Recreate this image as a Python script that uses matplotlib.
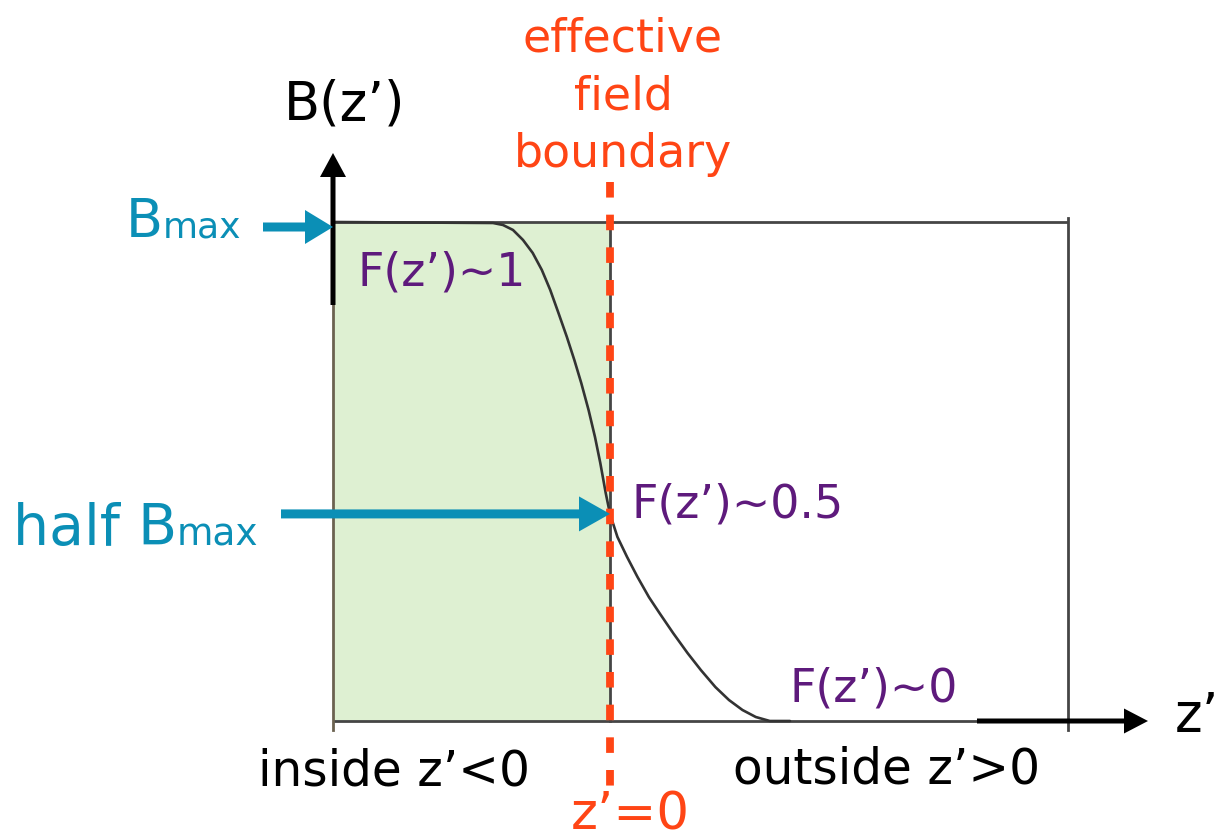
import matplotlib
matplotlib.use("Agg")
import matplotlib.pyplot as plt

# ---- data (z' in arbitrary units, field fraction F = B/Bmax) ----
z_curve = [-2.770, -1.170, -1.070, -0.970, -0.870, -0.773, -0.682, -0.598, -0.516, -0.432,
           -0.356, -0.287, -0.214, -0.150, -0.097, -0.043, 0.000, 0.074, 0.170, 0.274,
           0.390, 0.496, 0.632, 0.776, 0.909, 1.054, 1.190, 1.325, 1.458, 1.598, 1.800]
F_curve = [1.000, 0.998, 0.994, 0.984, 0.964, 0.938, 0.904, 0.864, 0.818, 0.770,
           0.723, 0.677, 0.623, 0.569, 0.517, 0.457, 0.415, 0.369, 0.329, 0.289,
           0.248, 0.216, 0.176, 0.136, 0.102, 0.068, 0.042, 0.022, 0.008, 0.000, 0.000]
z_inside = -2.77      # left edge of box
z_boundary = 0.0      # effective field boundary
z_outside = 4.58      # right edge of box
F_max = 1.0
F_half = 0.415

labels_F = ["F(z\u2019)~1", "F(z\u2019)~0.5", "F(z\u2019)~0"]
boundary_lines = ["effective", "field", "boundary"]

# ---- colours ----
ORANGE = "#FF4515"
PURPLE = "#5E1A7C"
TEAL = "#0B8FB6"
GREEN = "#DEF0D2"
BOXC = "#454545"

W, H = 1222, 840
fig = plt.figure(figsize=(W / 100, H / 100), dpi=100)
ax = fig.add_axes([0, 0, 1, 1])
# mapping: 100 px per z unit, 499 px per unit of F, boundary at px 610, F=0 at py 721
XS, YS, X0, Y0 = 100.0, 499.0, 610.0, 721.0
ax.set_xlim((0 - X0) / XS, (W - X0) / XS)
ax.set_ylim((Y0 - H) / YS, Y0 / YS)
ax.axis("off")


def P(x, y):
    """pixel (top-left origin) -> data coords, for layout of annotations"""
    return ((x - X0) / XS, (Y0 - y) / YS)


FONT = "DejaVu Sans"

# green "inside" region
ax.fill_between([z_inside, z_boundary], [0, 0], [F_max, F_max], color=GREEN, lw=0, zorder=1)

# box
lw_box = 2.0
ax.plot([z_inside, z_outside], [F_max, F_max], color=BOXC, lw=lw_box, zorder=2, solid_capstyle="butt")
ax.plot([z_inside, z_outside], [0, 0], color=BOXC, lw=lw_box, zorder=2, solid_capstyle="butt")
ax.plot([z_inside, z_inside], [P(0, 730)[1], F_max], color="#6b6250", lw=lw_box, zorder=2)
ax.plot([z_outside, z_outside], [P(0, 730)[1], P(0, 218)[1]], color=BOXC, lw=lw_box, zorder=2)
ax.plot([z_boundary, z_boundary], [0, F_max], color=BOXC, lw=lw_box, zorder=2)

# fringe field curve
ax.plot(z_curve, F_curve, color="#333333", lw=1.9, zorder=3,
        solid_joinstyle="round", solid_capstyle="round")

# dashed effective boundary
ax.plot([z_boundary, z_boundary], [P(0, 182)[1], P(0, 792)[1]], color=ORANGE, lw=5.6,
        dashes=(2.0, 2.2), zorder=4)

# axis arrows (black)
ax.arrow(z_inside, P(0, 305)[1], 0, P(0, 153)[1] - P(0, 305)[1], width=5 / XS,
         head_width=26 / XS, head_length=24 / YS, length_includes_head=True,
         color="black", lw=0, zorder=5)
ax.arrow(P(977, 0)[0], 0, P(1148, 0)[0] - P(977, 0)[0], 0, width=5 / YS,
         head_width=25 / YS, head_length=24 / XS, length_includes_head=True,
         color="black", lw=0, zorder=5)

# teal arrows
F_bmax_arrow = P(0, 227)[1]
ax.arrow(P(263, 0)[0], F_bmax_arrow, z_inside - P(263, 0)[0], 0, width=9 / YS,
         head_width=34 / YS, head_length=28 / XS, length_includes_head=True,
         color=TEAL, lw=0, zorder=5)
ax.arrow(P(281, 0)[0], F_half, z_boundary - P(281, 0)[0], 0, width=9 / YS,
         head_width=35 / YS, head_length=31 / XS, length_includes_head=True,
         color=TEAL, lw=0, zorder=5)

# ---- texts ----
def T(x, y, s, **kw):
    kw.setdefault("family", FONT)
    kw.setdefault("va", "baseline")
    ax.text(*P(x, y), s, zorder=6, **kw)


T(345, 120, "B(z\u2019)", fontsize=38, color="black", ha="center")
for s, yb in zip(boundary_lines, [52, 109, 167]):
    T(623, yb, s, fontsize=33, color=ORANGE, ha="center")

T(358, 285, labels_F[0], fontsize=33, color=PURPLE, ha="left")
T(632, 518, labels_F[1], fontsize=33, color=PURPLE, ha="left")
T(790, 702, labels_F[2], fontsize=33, color=PURPLE, ha="left")

T(258, 785, "inside z\u2019<0", fontsize=35, color="black", ha="left")
T(733, 784, "outside z\u2019>0", fontsize=35, color="black", ha="left")
T(630, 830, "z\u2019=0", fontsize=37, color=ORANGE, ha="center")
T(1175, 731, "z\u2019", fontsize=38, color="black", ha="left")

# Bmax labels (teal)
T(163, 237, "B", fontsize=39, color=TEAL, ha="right")
T(163, 237, "max", fontsize=26, color=TEAL, ha="left")
T(177, 545, "half B", fontsize=41, color=TEAL, ha="right")
T(177, 545, "max", fontsize=27, color=TEAL, ha="left")

fig.savefig("out.png", dpi=100)
